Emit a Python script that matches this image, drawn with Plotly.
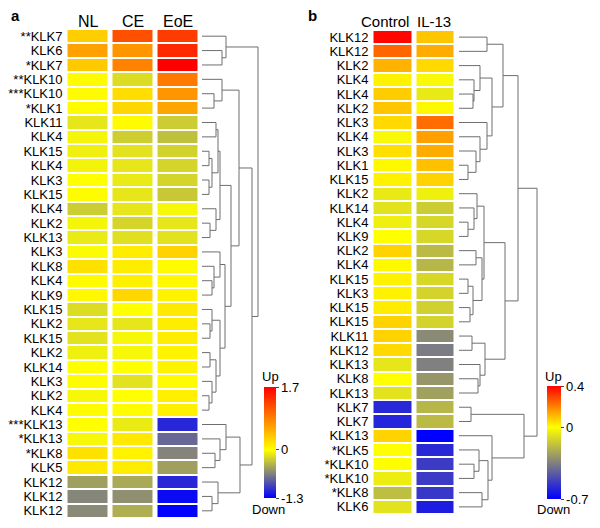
import plotly.graph_objects as go

W, H = 600, 528

# ---------------- Panel a data ----------------
cols_a = ["NL", "CE", "EoE"]
labels_a = ["**KLK7", "KLK6", "*KLK7", "**KLK10", "***KLK10", "*KLK1", "KLK11", "KLK4",
            "KLK15", "KLK4", "KLK3", "KLK15", "KLK4", "KLK2", "KLK13", "KLK3", "KLK8",
            "KLK4", "KLK9", "KLK15", "KLK2", "KLK15", "KLK2", "KLK14", "KLK3", "KLK2",
            "KLK4", "***KLK13", "*KLK13", "*KLK8", "KLK5", "KLK12", "KLK12", "KLK12"]
nl = [0.33, 0.63, 0.36, 0.03, 0.03, 0.02, -0.13, -0.05, -0.08, -0.06, 0.0, 0.02, -0.26,
      -0.05, -0.11, -0.02, 0.2, 0.02, 0.05, -0.18, -0.13, -0.15, -0.08, 0.0, 0.03, -0.04,
      0.02, 0.0, -0.04, 0.2, 0.15, -0.49, -0.62, -0.6]
ce = [1.17, 0.7, 0.83, -0.18, 0.23, 0.27, 0.03, -0.25, -0.15, -0.13, -0.11, -0.13, -0.13,
      -0.22, -0.16, 0.12, 0.12, 0.1, 0.27, 0.0, -0.13, -0.04, -0.04, 0.0, -0.15, 0.0,
      0.02, -0.1, 0.15, 0.08, 0.12, -0.44, -0.57, -0.41]
eoe = [1.3, 1.43, 1.7, 0.9, 0.7, 0.6, -0.26, -0.32, -0.23, -0.22, -0.22, -0.28, -0.04,
       -0.13, -0.15, 0.3, 0.02, 0.05, 0.08, 0.15, 0.12, 0.12, 0.08, 0.08, 0.03, 0.1,
       0.1, -1.1, -0.77, -0.63, -0.49, -1.1, -1.25, -1.3]
range_a = [-1.3, 1.7]
# dendrogram: [left, right, merge height]; ints are row indices
tree_a = [[0, [1, 2, 20], 24],
          [[[3, [4, 5, 12], 20],
            [[[[6, 7, 14], [[8, 9, 7], [10, 11, 7], 10], 16], [12, [13, 14, 8], 14], 18],
             [[15, [16, [17, 18, 10], 12], 18],
              [[19, [20, 21, 8], 10], [[22, 23, 8], [24, [25, 26, 7], 10], 14], 18], 23],
             29], 37],
           [[27, [28, [29, 30, 13], 18], 24], [31, [32, 33, 10], 16], 38], 50],
          56]

# ---------------- Panel b data ----------------
cols_b = ["Control", "IL-13"]
labels_b = ["KLK12", "KLK12", "KLK2", "KLK4", "KLK4", "KLK2", "KLK3", "KLK4", "KLK3",
            "KLK1", "KLK15", "KLK2", "KLK14", "KLK4", "KLK9", "KLK2", "KLK4", "KLK15",
            "KLK3", "KLK15", "KLK15", "KLK11", "KLK12", "KLK13", "KLK8", "KLK13", "KLK7",
            "KLK7", "KLK13", "*KLK5", "*KLK10", "*KLK10", "*KLK8", "KLK6"]
control = [0.39, 0.24, 0.12, 0.02, 0.08, 0.09, 0.06, -0.02, 0.05, 0.01, 0.02, -0.06, -0.08,
           -0.04, 0.0, 0.07, 0.01, 0.02, 0.02, 0.03, 0.07, 0.07, 0.06, -0.07, 0.0, -0.08,
           -0.59, -0.6, 0.07, 0.0, 0.0, -0.05, -0.18, -0.08]
il13 = [0.09, 0.13, 0.06, -0.02, -0.06, 0.01, 0.23, 0.15, 0.13, 0.1, 0.07, -0.04, -0.14,
        -0.11, -0.11, -0.19, -0.2, -0.11, -0.12, -0.13, -0.12, -0.32, -0.36, -0.35, -0.29,
        -0.26, -0.2, -0.19, -0.7, -0.59, -0.54, -0.54, -0.55, -0.62]
range_b = [-0.7, 0.4]
tree_b = [[[[0, 1, 28],
            [[2, [3, [4, 5, 14], 15], 21], [6, [7, [8, [9, 10, 9], 17], 21], 28], 33], 44],
           [[[11, [12, [13, 14, 9], 15], 18], [[15, 16, 17], [[17, 18, 9], [19, 20, 11], 14], 23], 25],
            [[21, 22, 13], [23, [24, 25, 19], 21], 26], 46], 59],
          [[26, 27, 12], [28, [[29, [30, 31, 15], 20], [32, 33, 23], 29], 33], 65],
          78]

FONT = "Arial, Liberation Sans, sans-serif"


def colorscale(zmin, zmax):
    z0 = -zmin / (zmax - zmin)
    return [[0, "rgb(0,0,255)"], [z0 / 2, "rgb(128,128,128)"], [z0, "rgb(255,255,0)"],
            [z0 + (1 - z0) / 2, "rgb(255,128,0)"], [1, "rgb(255,0,0)"]]


def dendro_lines(tree):
    xs, ys = [], []

    def walk(node):
        if isinstance(node, int):
            return float(node), 0.0
        l, r, h = node
        yl, hl = walk(l)
        yr, hr = walk(r)
        xs.extend([hl, h, h, hr, None])
        ys.extend([yl, yl, yr, yr, None])
        return (yl + yr) / 2, h

    walk(tree)
    return xs, ys


def fx(p):
    return p / W


def fy(p):
    return 1 - p / H


def fmt(v):
    return f"{v:g}"


fig = go.Figure()

# heatmap a
fig.add_trace(go.Heatmap(
    z=[[nl[i], ce[i], eoe[i]] for i in range(len(labels_a))],
    x=cols_a, y=list(range(len(labels_a))),
    colorscale=colorscale(*range_a), zmin=range_a[0], zmax=range_a[1],
    xgap=5, ygap=2, xaxis="x", yaxis="y",
    colorbar=dict(x=fx(264), xanchor="left", xref="paper", xpad=0, ypad=0,
                  y=fy(442.5), yanchor="middle", yref="paper",
                  len=111, lenmode="pixels", thickness=12, thicknessmode="pixels",
                  outlinewidth=0, tickvals=[range_a[0], 0, range_a[1]],
                  ticktext=[fmt(range_a[0]), "0", fmt(range_a[1])],
                  ticks="outside", ticklen=3, tickcolor="#444",
                  tickfont=dict(family=FONT, size=13, color="black"))))

xs, ys = dendro_lines(tree_a)
fig.add_trace(go.Scatter(x=xs, y=ys, mode="lines", line=dict(color="#6e6e6e", width=1),
                         xaxis="x2", yaxis="y2", hoverinfo="skip", showlegend=False))

# heatmap b
fig.add_trace(go.Heatmap(
    z=[[control[i], il13[i]] for i in range(len(labels_b))],
    x=cols_b, y=list(range(len(labels_b))),
    colorscale=colorscale(*range_b), zmin=range_b[0], zmax=range_b[1],
    xgap=5, ygap=2, xaxis="x3", yaxis="y3",
    colorbar=dict(x=fx(547), xanchor="left", xref="paper", xpad=0, ypad=0,
                  y=fy(442.5), yanchor="middle", yref="paper",
                  len=113, lenmode="pixels", thickness=14, thicknessmode="pixels",
                  outlinewidth=0, tickvals=[range_b[0], 0, range_b[1]],
                  ticktext=[fmt(range_b[0]), "0", fmt(range_b[1])],
                  ticks="outside", ticklen=3, tickcolor="#444",
                  tickfont=dict(family=FONT, size=13, color="black"))))

xs, ys = dendro_lines(tree_b)
fig.add_trace(go.Scatter(x=xs, y=ys, mode="lines", line=dict(color="#6e6e6e", width=1),
                         xaxis="x4", yaxis="y4", hoverinfo="skip", showlegend=False))

hidden = dict(visible=False, showgrid=False, zeroline=False)
na, nb = len(labels_a), len(labels_b)
ydom_a = [fy(518), fy(29)]
ydom_b = [fy(514), fy(30)]

fig.update_layout(
    width=W, height=H, margin=dict(l=0, r=0, t=0, b=0, autoexpand=False),
    paper_bgcolor="white", plot_bgcolor="white",
    font=dict(family=FONT, color="black"),
    xaxis=dict(domain=[fx(65.5), fx(200.5)], anchor="y", **hidden),
    yaxis=dict(domain=ydom_a, anchor="x", range=[na - 0.5, -0.5], tickmode="array",
               tickvals=list(range(na)), ticktext=labels_a, ticks="", showgrid=False,
               zeroline=False, showline=False, ticklabelstandoff=2,
               tickfont=dict(size=13, color="black")),
    xaxis2=dict(domain=[fx(200), fx(260)], range=[-2, 58], anchor="y2", **hidden),
    yaxis2=dict(domain=ydom_a, range=[na - 0.5, -0.5], anchor="x2", **hidden),
    xaxis3=dict(domain=[fx(371.5), fx(456.5)], anchor="y3", **hidden),
    yaxis3=dict(domain=ydom_b, anchor="x3", range=[nb - 0.5, -0.5], tickmode="array",
                tickvals=list(range(nb)), ticktext=labels_b, ticks="", showgrid=False,
                zeroline=False, showline=False, ticklabelstandoff=2,
                tickfont=dict(size=13, color="black")),
    xaxis4=dict(domain=[fx(457), fx(539)], range=[-2, 80], anchor="y4", **hidden),
    yaxis4=dict(domain=ydom_b, range=[nb - 0.5, -0.5], anchor="x4", **hidden),
)


def note(text, px, py, size):
    return dict(text=text, x=fx(px), y=fy(py), xref="paper", yref="paper",
                xanchor="center", yanchor="middle", showarrow=False,
                font=dict(size=size))


ann = [note("<b>a</b>", 15, 16, 15), note("<b>b</b>", 312, 16, 15)]
for c, px in zip(cols_a, [88, 133, 178]):
    ann.append(note(c, px, 21, 16))
for c, px in zip(cols_b, [385, 434]):
    ann.append(note(c, px, 21, 15))
for cx in [270, 553]:
    ann.append(note("Up", cx, 376, 13))
ann.append(note("Down", 268, 509, 13))
ann.append(note("Down", 553, 509, 13))
fig.update_layout(annotations=ann)

fig.write_html("out.html", config={"displayModeBar": False},
               post_script="document.body.style.margin='0px';")
